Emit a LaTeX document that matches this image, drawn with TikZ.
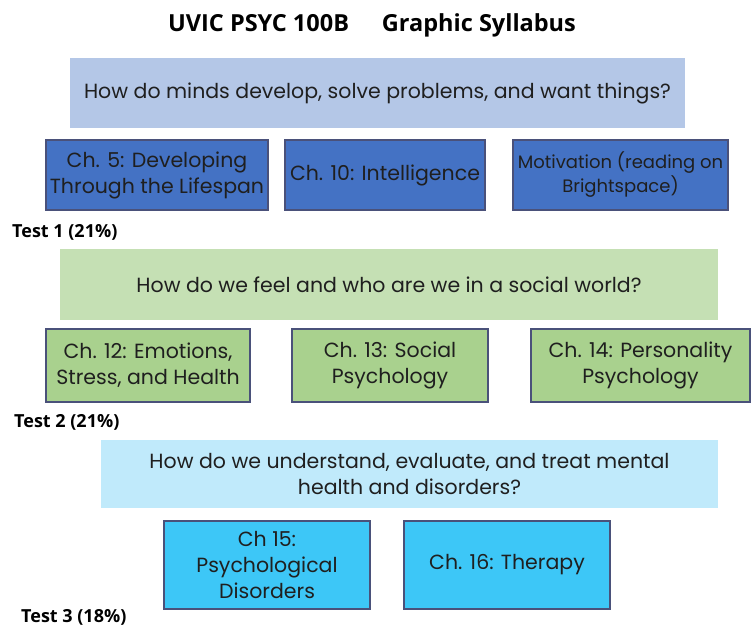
\documentclass[tikz,border=0pt]{standalone}
\usepackage{fontspec}
\setmainfont{Poppins}
\newfontfamily\titlefont{Open Sans}
\begin{document}
\begin{tikzpicture}[x=1pt,y=-1pt,
  qbox/.style={draw=none,inner sep=0pt,align=center,font=\fontsize{20.5}{26}\selectfont,text=black!88},
  chbox/.style={draw=black!75!cyan!60!blue,line width=1.4pt,inner sep=0pt,align=center,font=\fontsize{20.5}{26}\selectfont,text=black!88},
  testlbl/.style={anchor=base west,inner sep=0pt,font=\titlefont\bfseries\fontsize{18}{20}\selectfont}]
\definecolor{q1}{HTML}{B4C7E7}
\definecolor{c1}{HTML}{4472C4}
\definecolor{q2}{HTML}{C5E0B4}
\definecolor{c2}{HTML}{A9D18E}
\definecolor{q3}{HTML}{C0EAFB}
\definecolor{c3}{HTML}{3DC7F7}
\useasboundingbox (0,0) rectangle (751,626);
\fill[white] (0,0) rectangle (751,626);
\node[font=\titlefont\bfseries\fontsize{23.5}{26}\selectfont] (title) at (372,25) {UVIC PSYC 100B\hspace{1.4em}Graphic Syllabus};
% row 1
\node[qbox,fill=q1,minimum width=615pt,minimum height=70pt] (q1) at (377.5,93) {How do minds develop, solve problems, and want things?};
\node[chbox,fill=c1,minimum width=222pt,minimum height=70pt] (ch5) at (157,175) {Ch. 5: Developing\\Through the Lifespan};
\node[chbox,fill=c1,minimum width=200pt,minimum height=70pt] (ch10) at (385,175) {Ch. 10: Intelligence};
\node[chbox,fill=c1,minimum width=215pt,minimum height=70pt,font=\fontsize{18}{24}\selectfont] (mot) at (620.5,175) {Motivation (reading on\\Brightspace)};
\node[testlbl] (t1) at (12,237) {Test 1 (21\%)};
% row 2
\node[qbox,fill=q2,minimum width=658pt,minimum height=71pt] (q2) at (389,284.5) {How do we feel and who are we in a social world?};
\node[chbox,fill=c2,minimum width=204pt,minimum height=73pt] (ch12) at (148,365.5) {Ch. 12: Emotions,\\Stress, and Health};
\node[chbox,fill=c2,minimum width=196pt,minimum height=73pt] (ch13) at (390,365.5) {Ch. 13: Social\\Psychology};
\node[chbox,fill=c2,minimum width=219pt,minimum height=73pt] (ch14) at (640.5,365.5) {Ch. 14: Personality\\Psychology};
\node[testlbl] (t2) at (14,427) {Test 2 (21\%)};
% row 3
\node[qbox,fill=q3,minimum width=617pt,minimum height=68pt] (q3) at (409.5,474) {How do we understand, evaluate, and treat mental\\health and disorders?};
\node[chbox,fill=c3,minimum width=206pt,minimum height=88pt] (ch15) at (267,565) {Ch 15:\\Psychological\\Disorders};
\node[chbox,fill=c3,minimum width=206pt,minimum height=88pt] (ch16) at (507,565) {Ch. 16: Therapy};
\node[testlbl] (t3) at (21,622) {Test 3 (18\%)};
\end{tikzpicture}
\end{document}
